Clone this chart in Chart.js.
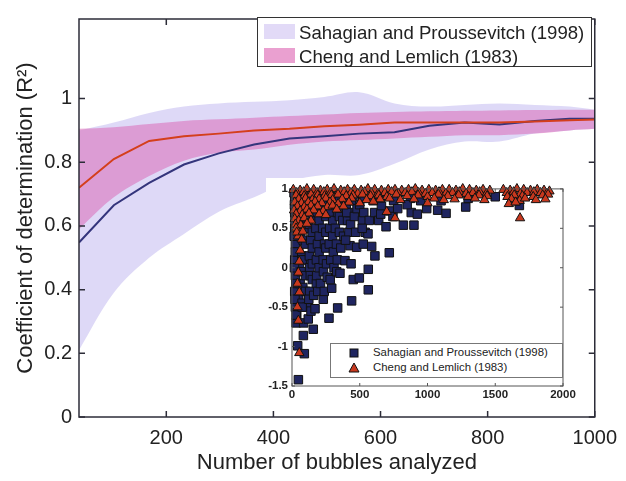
<!DOCTYPE html>
<html>
<head>
<meta charset="utf-8">
<script src="https://cdn.jsdelivr.net/npm/chart.js"></script>
<style>
  html, body { margin: 0; padding: 0; background: #fff; }
  #wrap { position: relative; width: 626px; height: 481px; font-family: "Liberation Sans", Arial, sans-serif; }
  #mainChart { position: absolute; left: 0; top: 0; }
  #insetChart { position: absolute; left: 266px; top: 178px; background: #fff; }
  .legend { position: absolute; background: #fff; color: #222; }
  #mainLegend { left: 257px; top: 17px; width: 333px; height: 48px; border: 1.5px solid #333; font-size: 18.6px; }
  #mainLegend .patch { position: absolute; left: 6px; width: 31px; height: 15px; }
  #mainLegend .txt { position: absolute; left: 41px; white-space: nowrap; }
  #insetLegend { left: 330px; top: 343px; width: 231px; height: 33px; border: 1px solid #777; font-size: 11.4px; }
  #insetLegend .txt { position: absolute; left: 42px; white-space: nowrap; }
</style>
</head>
<body>
<div id="wrap">
  <canvas id="mainChart" width="626" height="481"></canvas>
  <div id="mainLegend" class="legend">
    <div class="patch" style="top:6px;background:rgb(226,218,247)"></div>
    <div class="txt" style="top:4px">Sahagian and Proussevitch (1998)</div>
    <div class="patch" style="top:30px;background:rgb(234,160,208)"></div>
    <div class="txt" style="top:28px">Cheng and Lemlich (1983)</div>
  </div>
  <canvas id="insetChart" width="316" height="232"></canvas>
  <div id="insetLegend" class="legend">
    <svg style="position:absolute;left:17px;top:4px" width="12" height="26">
      <rect x="2" y="1" width="8" height="8" fill="#1f2560" stroke="#111" stroke-width="1"/>
      <polygon points="6,15 11,24 1,24" fill="#c8381e" stroke="#111" stroke-width="1"/>
    </svg>
    <div class="txt" style="top:2px">Sahagian and Proussevitch (1998)</div>
    <div class="txt" style="top:17px">Cheng and Lemlich (1983)</div>
  </div>
</div>
<script>
// main panel: window size vs. R^2
const bubbleCounts = [37, 102, 168, 233, 298, 364, 430, 495, 560, 626, 691, 757, 822, 888, 953, 1000];
const sahagianMean = [0.548, 0.665, 0.735, 0.793, 0.828, 0.856, 0.875, 0.882, 0.890, 0.894, 0.915, 0.925, 0.919, 0.930, 0.937, 0.937];
const sahagianLow  = [0.21, 0.39, 0.50, 0.575, 0.645, 0.69, 0.74, 0.76, 0.76, 0.795, 0.84, 0.865, 0.865, 0.89, 0.90, 0.905];
const sahagianHigh = [0.90, 0.925, 0.955, 0.975, 0.985, 0.99, 0.995, 1.005, 1.02, 0.985, 0.975, 0.98, 0.985, 0.98, 0.975, 0.965];
const chengMean = [0.72, 0.81, 0.867, 0.882, 0.89, 0.90, 0.905, 0.913, 0.918, 0.925, 0.925, 0.925, 0.925, 0.928, 0.932, 0.934];
const chengLow  = [0.59, 0.69, 0.757, 0.805, 0.83, 0.84, 0.855, 0.865, 0.87, 0.875, 0.88, 0.885, 0.885, 0.89, 0.90, 0.905];
const chengHigh = [0.905, 0.91, 0.92, 0.93, 0.935, 0.94, 0.945, 0.95, 0.955, 0.958, 0.96, 0.962, 0.963, 0.964, 0.965, 0.965];
const xTickValues = [200, 400, 600, 800, 1000];
const yTickValues = [0, 0.2, 0.4, 0.6, 0.8, 1];

// inset: every sample, R^2 vs. bubbles counted
const insetSahX = [20, 20, 20, 25, 20, 25, 20, 25, 30, 42, 47, 91, 84, 35, 50, 60, 55, 50, 60, 55, 50,
  15, 18, 22, 16, 24, 18, 28, 22, 30,
  70, 78, 66, 82, 72, 68, 80, 74, 86,
  100, 100, 100, 100, 100, 100, 100, 110, 120, 157, 75, 75, 130, 130,
  125, 132, 122, 138, 128, 135, 124, 140,
  150, 150, 150, 150, 150, 150, 160, 170, 180, 180,
  178, 185, 176, 188, 182, 190,
  200, 200, 200, 200, 200, 210, 231, 273, 230,
  228, 236, 226, 240, 232, 238,
  250, 250, 250, 250, 255, 260, 293, 337, 275,
  280, 284, 278, 286, 282,
  300, 300, 300, 305, 310, 330, 354, 440, 320,
  330, 336, 328, 334,
  350, 350, 350, 360, 391, 380, 375,
  400, 410, 420, 428, 452, 497, 425, 398, 404, 396, 432, 436,
  450, 460, 477, 470, 563, 563, 480,
  500, 520, 540, 561, 588, 612, 718, 530, 570, 522, 518, 526,
  600, 610, 640, 694, 660, 720, 650, 655, 750, 745, 880, 875,
  822, 900, 925, 994, 1075, 1137, 1282, 1678, 850, 780, 950, 1100, 1300, 1500, 1650];
const insetSahY = [0.9, 0.7, 0.5, 0.3, 0.1, -0.1, -0.3, -0.5, -0.7, -0.99, -1.42, -1.09, -0.86, -0.6, -0.4, -0.2, 0.0, 0.2, 0.4, 0.6, 0.8,
  0.95, 0.8, 0.6, 0.4, 0.2, 0.0, -0.2, -0.4, -0.6,
  0.95, 0.75, 0.55, 0.35, 0.15, -0.05, -0.25, -0.45, -0.7,
  0.9, 0.7, 0.5, 0.3, 0.1, -0.1, -0.3, -0.5, -0.65, -0.78, 0.1, -0.5, 0.0, -0.3,
  0.95, 0.75, 0.55, 0.35, 0.15, -0.1, -0.4, -0.55,
  0.85, 0.65, 0.45, 0.25, 0.05, -0.15, -0.35, -0.52, 0.1, -0.2,
  0.95, 0.7, 0.5, 0.3, -0.1, -0.3,
  0.8, 0.6, 0.4, 0.2, 0.0, -0.2, -0.4, -0.64, 0.1,
  0.9, 0.7, 0.5, 0.3, -0.05, -0.3,
  0.85, 0.65, 0.45, 0.25, 0.05, -0.12, -0.26, -0.51, 0.3,
  0.9, 0.7, 0.5, 0.1, -0.15,
  0.8, 0.6, 0.4, 0.2, 0.0, -0.05, -0.07, -0.42, 0.5,
  0.9, 0.7, 0.3, 0.1,
  0.85, 0.65, 0.45, 0.25, 0.09, 0.4, 0.6,
  0.8, 0.6, 0.45, 0.28, -0.15, -0.13, 0.7, 0.9, 0.7, 0.35, 0.55, 0.05,
  0.85, 0.65, 0.26, 0.45, -0.28, -0.02, 0.75,
  0.8, 0.6, 0.45, 0.43, 0.27, 0.15, 0.19, 0.7, 0.6, 0.9, 0.5, 0.3,
  0.85, 0.7, 0.6, 0.52, 0.78, 0.72, 0.9, 0.68, 0.85, 0.65, 0.7, 0.88,
  0.54, 0.54, 0.68, 0.75, 0.73, 0.69, 0.77, 0.79, 0.8, 0.75, 0.85, 0.85, 0.88, 0.9, 0.85];
const insetChengX = [10, 60, 110, 160, 210, 260, 310, 360, 410, 460, 510, 560, 610, 660, 710, 760, 810, 860, 910, 960,
  1010, 1060, 1110, 1160, 1210, 1260, 1310, 1360, 1410, 1460, 1560, 1610, 1660, 1710, 1760, 1810, 1860, 1900,
  35, 85, 135, 185, 235, 285, 335, 385, 435, 485, 535, 585, 635, 685, 735, 785, 835, 885, 935, 985,
  1035, 1085, 1135, 1185, 1235, 1285, 1335, 1385, 1435, 1585, 1635, 1685, 1735, 1785, 1835, 1880,
  30, 90, 140, 190, 240, 290, 340, 400, 450, 520, 580, 640, 700, 770, 850, 930, 1000, 1080, 1150, 1230, 1300, 1380, 1440, 1590, 1640, 1700, 1780, 1850, 1890,
  50, 100, 150, 200, 250, 300, 370, 440, 550, 650, 720, 800, 900, 1050, 1120, 1200, 1350, 1420, 1620, 1680, 1720, 1800, 1870,
  20, 70, 120, 170, 220, 280, 340, 420, 500, 600, 1000, 1600, 1650,
  40, 90, 140, 190, 260, 300, 380,
  15, 60, 110, 160, 230, 330,
  30, 75, 125, 200, 250,
  20, 50, 90, 140, 25, 65, 110,
  30, 45, 71, 60, 54, 47, 40, 54, 40, 47, 54, 35, 80,
  699, 760, 1683];
const insetChengY = [0.99, 0.98, 1.0, 0.99, 0.98, 0.99, 1.0, 0.98, 0.99, 0.99, 0.98, 1.0, 0.99, 0.98, 0.99, 0.99, 0.98, 0.99, 1.0, 0.98,
  0.99, 0.98, 0.99, 0.99, 0.98, 1.0, 0.99, 0.98, 0.99, 0.98, 0.99, 0.98, 1.0, 0.99, 0.98, 0.99, 0.98, 0.97,
  0.95, 0.96, 0.94, 0.95, 0.96, 0.95, 0.94, 0.96, 0.95, 0.94, 0.96, 0.95, 0.94, 0.95, 0.96, 0.94, 0.95, 0.96, 0.95, 0.94,
  0.95, 0.96, 0.94, 0.95, 0.96, 0.94, 0.95, 0.96, 0.94, 0.95, 0.96, 0.94, 0.95, 0.96, 0.95, 0.94,
  0.92, 0.91, 0.93, 0.92, 0.91, 0.92, 0.93, 0.91, 0.92, 0.93, 0.91, 0.92, 0.9, 0.93, 0.91, 0.92, 0.9, 0.93, 0.91, 0.92, 0.9, 0.92, 0.91, 0.9, 0.92, 0.91, 0.9, 0.92, 0.93,
  0.87, 0.88, 0.86, 0.87, 0.88, 0.86, 0.87, 0.88, 0.86, 0.87, 0.88, 0.86, 0.87, 0.88, 0.86, 0.87, 0.88, 0.86, 0.87, 0.85, 0.88, 0.86, 0.87,
  0.83, 0.82, 0.83, 0.84, 0.82, 0.83, 0.81, 0.83, 0.82, 0.84, 0.82, 0.81, 0.83,
  0.78, 0.77, 0.79, 0.78, 0.77, 0.79, 0.78,
  0.73, 0.72, 0.74, 0.73, 0.72, 0.74,
  0.68, 0.67, 0.69, 0.68, 0.67,
  0.62, 0.6, 0.63, 0.6, 0.55, 0.54, 0.56,
  0.5, 0.4, 0.36, 0.22, 0.08, -0.06, -0.2, -0.31, -0.5, -0.67, -1.08, 0.45, 0.46,
  0.71, 0.63, 0.63];
const insetXTicks = [0, 500, 1000, 1500, 2000];
const insetYTicks = [-1.5, -1, -0.5, 0, 0.5, 1];

const FONT = '"Liberation Sans", Arial, sans-serif';
Chart.defaults.font.family = FONT;
Chart.defaults.color = '#222';

const toPoints = (xs, ys) => xs.map((x, i) => ({ x: x, y: ys[i] }));

// box round the plot area plus MATLAB style inward ticks
const boxTicks = {
  id: 'boxTicks',
  afterDraw(chart, args, opts) {
    const { ctx, chartArea: a, scales } = chart;
    ctx.save();
    ctx.strokeStyle = opts.color;
    ctx.lineWidth = opts.width;
    ctx.strokeRect(a.left, a.top, a.right - a.left, a.bottom - a.top);
    ctx.beginPath();
    scales.x.ticks.forEach(t => {
      const px = scales.x.getPixelForValue(t.value);
      ctx.moveTo(px, a.bottom); ctx.lineTo(px, a.bottom - opts.len);
      ctx.moveTo(px, a.top); ctx.lineTo(px, a.top + opts.len);
    });
    scales.y.ticks.forEach(t => {
      const py = scales.y.getPixelForValue(t.value);
      ctx.moveTo(a.left, py); ctx.lineTo(a.left + opts.len, py);
      ctx.moveTo(a.right, py); ctx.lineTo(a.right - opts.len, py);
    });
    ctx.stroke();
    ctx.restore();
  }
};

const bandLine = { borderWidth: 0, pointRadius: 0, tension: 0.35 };

new Chart(document.getElementById('mainChart'), {
  type: 'line',
  data: {
    datasets: [
      { ...bandLine, data: toPoints(bubbleCounts, sahagianLow), fill: false, order: 10 },
      { ...bandLine, data: toPoints(bubbleCounts, sahagianHigh), fill: '-1', backgroundColor: 'rgba(190,180,240,0.5)', order: 10 },
      { ...bandLine, data: toPoints(bubbleCounts, chengLow), fill: false, order: 8 },
      { ...bandLine, data: toPoints(bubbleCounts, chengHigh), fill: '-1', backgroundColor: 'rgba(218,100,180,0.52)', order: 8 },
      { data: toPoints(bubbleCounts, sahagianMean), borderColor: '#34357c', borderWidth: 2, pointRadius: 0, tension: 0, order: 2 },
      { data: toPoints(bubbleCounts, chengMean), borderColor: '#d43f1c', borderWidth: 2, pointRadius: 0, tension: 0, order: 1 }
    ]
  },
  options: {
    responsive: false,
    animation: false,
    layout: { padding: { top: 8, right: 25, left: 0, bottom: 0 } },
    plugins: {
      legend: { display: false },
      tooltip: { enabled: false },
      boxTicks: { color: '#2c2c38', width: 1.5, len: 6 }
    },
    scales: {
      x: {
        type: 'linear', min: 37, max: 1000,
        afterBuildTicks: s => { s.ticks = xTickValues.map(v => ({ value: v })); },
        afterFit: s => { s.height = 64; },
        grid: { display: false, drawTicks: false },
        border: { display: false },
        ticks: { font: { size: 20 }, padding: 9, color: '#222', maxRotation: 0, callback: v => String(v) },
        title: { display: true, text: 'Number of bubbles analyzed', font: { size: 22 }, padding: { bottom: 5 }, color: '#222' }
      },
      y: {
        type: 'linear', min: 0, max: 1.25,
        afterBuildTicks: s => { s.ticks = yTickValues.map(v => ({ value: v })); },
        afterFit: s => { s.width = 79; },
        grid: { display: false, drawTicks: false },
        border: { display: false },
        ticks: { font: { size: 20 }, padding: 7, color: '#222', callback: v => String(v) },
        title: { display: true, text: 'Coefficient of determination (R²)', font: { size: 22 }, padding: { top: 13 }, color: '#222' }
      }
    }
  },
  plugins: [boxTicks]
});

new Chart(document.getElementById('insetChart'), {
  type: 'scatter',
  data: {
    datasets: [
      { data: toPoints(insetSahX, insetSahY), pointStyle: 'rect', pointRadius: 6, backgroundColor: '#1f2560', borderColor: '#111', borderWidth: 1, clip: false, order: 2 },
      { data: toPoints(insetChengX, insetChengY), pointStyle: 'triangle', pointRadius: 5.4, backgroundColor: '#c8381e', borderColor: '#111', borderWidth: 1, clip: false, order: 1 }
    ]
  },
  options: {
    responsive: false,
    animation: false,
    layout: { padding: { top: 5, right: 19, left: 0, bottom: 0 } },
    plugins: {
      legend: { display: false },
      tooltip: { enabled: false },
      boxTicks: { color: '#555', width: 1, len: 3 }
    },
    scales: {
      x: {
        type: 'linear', min: 0, max: 2000,
        afterBuildTicks: s => { s.ticks = insetXTicks.map(v => ({ value: v })); },
        afterFit: s => { s.height = 24; },
        grid: { display: false, drawTicks: false },
        border: { display: false },
        ticks: { font: { size: 11.5, weight: 'bold' }, padding: 2, color: '#222', maxRotation: 0, callback: v => String(v) }
      },
      y: {
        type: 'linear', min: -1.5, max: 1,
        afterBuildTicks: s => { s.ticks = insetYTicks.map(v => ({ value: v })); },
        afterFit: s => { s.width = 26; },
        grid: { display: false, drawTicks: false },
        border: { display: false },
        ticks: { font: { size: 11.5, weight: 'bold' }, padding: 4, color: '#222', callback: v => String(v) }
      }
    }
  },
  plugins: [boxTicks]
});
</script>
</body>
</html>
